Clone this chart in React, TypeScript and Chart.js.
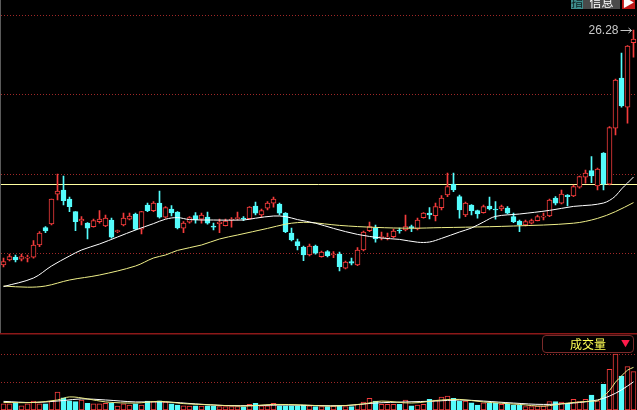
import React, { useEffect, useRef } from "react";
import { Chart, registerables } from "chart.js";

Chart.register(...registerables);

// ---- data ----
const opens = [
  14.53, 14.78, 14.92, 14.82, 14.87, 14.92, 15.53, 16.4, 16.58, 18.07,
  18.28, 17.82, 17.2, 16.73, 16.62, 16.45, 16.7, 16.48, 16.78, 16.2,
  16.53, 16.82, 17.08, 16.32, 17.53, 17.25, 17.62, 16.92, 17.33, 17.18,
  16.37, 16.67, 17.0, 16.82, 16.92, 16.45, 16.6, 16.5, 16.78, 16.85,
  16.87, 16.85, 17.48, 17.03, 17.37, 17.62, 17.58, 17.12, 16.12, 15.7,
  15.42, 15.03, 15.48, 14.95, 15.2, 15.03, 15.07, 14.37, 14.7, 14.53,
  15.28, 16.25, 16.37, 15.9, 15.87, 15.95, 16.28, 16.28, 16.45, 16.33,
  16.9, 17.12, 17.0, 17.4, 18.03, 18.57, 17.95, 17.03, 17.53, 17.25,
  17.15, 17.48, 17.33, 17.33, 17.37, 16.95, 16.73, 16.53, 16.62, 16.75,
  16.92, 16.98, 17.87, 17.62, 18.03, 17.98, 18.42, 18.92, 19.25, 18.48,
  20.12, 18.57, 21.37, 23.87, 22.42, 25.65,
];
const closes = [
  14.7, 14.95, 14.78, 14.95, 14.92, 15.53, 16.12, 16.23, 17.82, 18.23,
  17.75, 17.45, 16.7, 16.82, 16.37, 16.75, 16.82, 16.87, 15.92, 16.25,
  16.87, 16.98, 16.32, 17.2, 17.25, 17.63, 16.92, 17.4, 17.13, 16.38,
  16.62, 16.9, 16.78, 17.03, 16.62, 16.42, 16.67, 16.73, 16.82, 16.9,
  16.82, 17.42, 17.12, 17.25, 17.62, 17.82, 17.12, 16.2, 15.78, 15.5,
  15.03, 15.48, 15.12, 15.17, 15.0, 15.08, 14.45, 14.67, 14.62, 15.28,
  16.17, 16.45, 15.83, 15.95, 15.92, 16.23, 16.23, 16.45, 16.37, 16.78,
  17.12, 17.03, 17.45, 17.87, 18.45, 18.28, 17.28, 17.62, 17.25, 17.08,
  17.45, 17.33, 17.28, 17.45, 17.12, 16.7, 16.53, 16.7, 16.75, 16.95,
  16.98, 17.78, 17.62, 18.08, 17.95, 18.45, 18.95, 19.12, 18.98, 19.32,
  18.57, 21.4, 23.78, 22.48, 25.48, 25.82,
];
const highs = [
  14.88, 15.08, 15.03, 15.08, 15.03, 15.75, 16.2, 16.45, 17.82, 19.08,
  18.98, 17.92, 17.2, 16.95, 16.65, 16.82, 17.25, 17.03, 16.87, 16.28,
  17.12, 17.12, 17.12, 17.21, 17.62, 17.7, 18.23, 17.45, 17.5, 17.2,
  16.7, 16.95, 17.15, 17.12, 17.17, 16.62, 16.82, 16.82, 16.9, 17.17,
  16.95, 17.45, 17.67, 17.32, 17.7, 17.92, 17.62, 17.15, 16.37, 15.82,
  15.48, 15.58, 15.53, 15.23, 15.25, 15.2, 15.17, 14.73, 14.87, 15.4,
  16.23, 16.67, 16.53, 16.17, 16.12, 16.33, 16.37, 17.03, 16.53, 16.87,
  17.15, 17.4, 17.62, 18.0, 19.12, 19.12, 18.03, 17.67, 17.55, 17.28,
  17.53, 17.92, 17.7, 17.53, 17.45, 17.12, 16.78, 16.78, 16.83, 17.03,
  17.12, 17.82, 17.95, 18.28, 18.05, 18.53, 18.98, 19.28, 19.95, 19.37,
  20.15, 21.45, 23.82, 25.12, 25.5, 26.28,
];
const lows = [
  14.43, 14.73, 14.68, 14.73, 14.68, 14.87, 15.45, 16.15, 16.53, 17.78,
  17.53, 17.2, 16.25, 16.53, 15.83, 16.42, 16.62, 16.45, 15.87, 16.15,
  16.48, 16.78, 16.28, 16.08, 17.2, 17.2, 16.87, 16.87, 16.98, 16.33,
  16.15, 16.62, 16.62, 16.62, 16.57, 16.28, 16.15, 16.48, 16.42, 16.78,
  16.75, 16.82, 17.03, 16.95, 17.28, 17.42, 17.03, 16.15, 15.73, 15.28,
  14.75, 14.98, 15.07, 14.92, 14.93, 14.9, 14.23, 14.33, 14.53, 14.5,
  15.23, 16.2, 15.67, 15.78, 15.78, 15.9, 16.12, 16.23, 16.2, 16.28,
  16.87, 16.83, 16.73, 17.28, 17.95, 18.2, 16.87, 16.95, 17.03, 16.87,
  17.12, 17.28, 16.82, 17.25, 17.08, 16.65, 16.2, 16.48, 16.58, 16.73,
  16.78, 16.95, 17.53, 17.58, 17.48, 17.95, 18.37, 18.62, 18.65, 18.28,
  18.28, 18.53, 21.03, 22.42, 21.62, 24.92,
];
const volumes = [
  22, 22, 24, 15, 22, 32, 22, 22, 32, 64,
  44, 33, 30, 36, 24, 22, 22, 24, 24, 14,
  22, 18, 22, 18, 32, 30, 33, 28, 22, 18,
  15, 14, 15, 14, 15, 13, 12, 12, 12, 12,
  11, 20, 24, 15, 15, 24, 15, 15, 15, 15,
  18, 15, 12, 12, 12, 14, 15, 12, 12, 20,
  28, 42, 32, 20, 20, 20, 20, 36, 15, 18,
  20, 38, 36, 46, 50, 42, 32, 32, 26, 18,
  26, 24, 24, 20, 20, 18, 18, 12, 12, 14,
  14, 30, 30, 28, 24, 38, 30, 38, 54, 33,
  92, 146, 201, 122, 156, 138,
];
// moving-average lines, as [day index, value]
const maFast = [
  [0, 13.45], [5, 13.88], [8, 14.48], [11, 14.98], [13, 15.28], [16, 15.58], [19, 15.93],
  [22, 16.28], [25, 16.6], [27, 16.82], [29, 16.9], [31, 16.8], [35, 16.78], [40, 16.78],
  [42, 16.87], [45, 16.98], [47, 16.95], [49, 16.8], [52, 16.62], [55, 16.36], [59, 16.06],
  [63, 15.88], [66, 15.81], [69, 15.67], [71, 15.68], [73, 15.86], [76, 16.18], [78, 16.38],
  [80, 16.68], [82, 16.96], [86, 17.08], [91, 17.26], [95, 17.46], [98, 17.53], [100, 17.63],
  [101, 17.76], [102, 17.98], [103, 18.33], [104, 18.63], [105, 18.93],
];
const maSlow = [
  [0, 13.48], [4, 13.42], [7, 13.48], [11, 13.78], [16, 14.03], [22, 14.48], [25, 14.88],
  [27, 15.03], [29, 15.26], [33, 15.53], [36, 15.83], [39, 16.03], [44, 16.36], [47, 16.57],
  [49, 16.65], [51, 16.66], [56, 16.51], [62, 16.41], [68, 16.37], [73, 16.4], [77, 16.42],
  [85, 16.48], [95, 16.62], [99, 16.86], [102, 17.2], [105, 17.65],
];
const volMaFast = [
  [0, 27], [5, 27], [9, 36], [11, 47], [14, 40], [17, 29], [22, 25], [26, 31], [30, 23],
  [35, 18], [40, 14], [45, 20], [50, 18], [55, 14], [60, 22], [63, 32], [68, 25], [73, 36],
  [76, 38], [80, 29], [86, 20], [90, 14], [94, 25], [98, 32], [99, 33], [100, 50], [101, 70],
  [102, 100], [103, 122], [104, 143], [105, 153],
];
const volMaSlow = [
  [0, 31], [5, 27], [10, 34], [13, 40], [17, 36], [22, 29], [27, 29], [32, 22], [37, 16],
  [42, 16], [47, 18], [52, 16], [57, 16], [62, 25], [67, 29], [72, 32], [76, 36], [80, 32],
  [85, 25], [90, 20], [95, 25], [99, 36], [101, 50], [103, 72], [105, 101],
];
const days = opens.map((_, i) => String(i + 1));
const priceGrid = [15.115, 19.08, 23.065, 26.995];
const volumeGrid = [100, 200];
const levelLine = 18.58;
const priceMin = 11.13;
const priceMax = 27.78;
const volumeMax = 276.5;

// ---- styles ----
const UP = "#f53c3c";
const DOWN = "#54fcfc";
const GRID = "#a02828";
const isUp = (i: number) => closes[i] >= opens[i];

const pts = (arr: number[][]) => arr.map(([i, v]) => ({ x: days[i], y: v }));

function baseOptions(yMin: number, yMax: number, grid: number[]) {
  return {
    animation: false as const,
    responsive: false,
    maintainAspectRatio: false,
    events: [] as any[],
    layout: { padding: { left: 0.5, right: 0.5, top: 0, bottom: 0 } },
    plugins: { legend: { display: false }, tooltip: { enabled: false } },
    scales: {
      x: { type: "category" as const, display: false, offset: true, grid: { display: false } },
      y: {
        min: yMin,
        max: yMax,
        display: true,
        ticks: { display: false },
        border: { display: false, dash: [1, 2] },
        grid: { color: GRID, lineWidth: 1, drawTicks: false, tickLength: 0 },
        afterBuildTicks: (s: any) => {
          s.ticks = grid.map((v) => ({ value: v }));
        },
      },
    },
  };
}

export default function App() {
  const mainRef = useRef<HTMLCanvasElement>(null);
  const volRef = useRef<HTMLCanvasElement>(null);

  useEffect(() => {
    document.body.style.margin = "0";
    document.body.style.background = "#000";

    const mainDecor = {
      id: "mainDecor",
      beforeDatasetsDraw(chart: any) {
        const { ctx, scales } = chart;
        const py = Math.round(scales.y.getPixelForValue(levelLine)) + 0.5;
        ctx.save();
        ctx.strokeStyle = "#ffffa0";
        ctx.lineWidth = 1;
        ctx.beginPath();
        ctx.moveTo(0, py);
        ctx.lineTo(chart.width, py);
        ctx.stroke();
        ctx.restore();
      },
      afterDatasetsDraw(chart: any) {
        const { ctx, scales } = chart;
        const last = days.length - 1;
        const px = scales.x.getPixelForValue(last);
        const py = Math.round(scales.y.getPixelForValue(highs[last])) + 0.5;
        ctx.save();
        ctx.font = '12px "Liberation Sans", Arial, sans-serif';
        ctx.fillStyle = "#c8c8c8";
        ctx.textAlign = "right";
        ctx.textBaseline = "middle";
        ctx.fillText(highs[last].toFixed(2), px - 15, py);
        ctx.strokeStyle = "#c8c8c8";
        ctx.lineWidth = 1;
        ctx.beginPath();
        ctx.moveTo(px - 13, py);
        ctx.lineTo(px - 2, py);
        ctx.moveTo(px - 5, py - 2.5);
        ctx.lineTo(px - 2, py);
        ctx.lineTo(px - 5, py + 2.5);
        ctx.stroke();
        ctx.restore();
      },
    };

    const volDecor = {
      id: "volDecor",
      afterDraw(chart: any) {
        const { ctx } = chart;
        ctx.save();
        ctx.strokeStyle = "#8c1818";
        ctx.lineWidth = 1.5;
        ctx.beginPath();
        ctx.moveTo(0, 0.75);
        ctx.lineTo(chart.width, 0.75);
        ctx.stroke();
        ctx.restore();
      },
    };

    const main = new Chart(mainRef.current as HTMLCanvasElement, {
      type: "bar",
      data: {
        labels: days,
        datasets: [
          {
            type: "bar",
            label: "wick",
            data: days.map((_, i) => [lows[i], highs[i]]),
            backgroundColor: days.map((_, i) => (isUp(i) ? UP : DOWN)),
            borderWidth: 0,
            barThickness: 1,
            grouped: false,
            order: 3,
          } as any,
          {
            type: "bar",
            label: "body",
            data: days.map((_, i) => [Math.min(opens[i], closes[i]), Math.max(opens[i], closes[i])]),
            backgroundColor: days.map((_, i) => (isUp(i) ? "#000000" : DOWN)),
            borderColor: days.map((_, i) => (isUp(i) ? UP : DOWN)),
            borderWidth: 1,
            borderSkipped: false,
            barThickness: 5,
            minBarLength: 1,
            grouped: false,
            order: 2,
          } as any,
          {
            type: "line",
            label: "MA fast",
            data: pts(maFast),
            borderColor: "#ffffff",
            borderWidth: 1,
            pointRadius: 0,
            tension: 0.35,
            order: 1,
          } as any,
          {
            type: "line",
            label: "MA slow",
            data: pts(maSlow),
            borderColor: "#eeee88",
            borderWidth: 1,
            pointRadius: 0,
            tension: 0.35,
            order: 1,
          } as any,
        ],
      },
      options: baseOptions(priceMin, priceMax, priceGrid) as any,
      plugins: [mainDecor],
    });

    const vol = new Chart(volRef.current as HTMLCanvasElement, {
      type: "bar",
      data: {
        labels: days,
        datasets: [
          {
            type: "bar",
            label: "成交量",
            data: volumes,
            backgroundColor: days.map((_, i) => (isUp(i) ? "#000000" : DOWN)),
            borderColor: days.map((_, i) => (isUp(i) ? UP : DOWN)),
            borderWidth: 1,
            borderSkipped: false,
            barThickness: 5,
            grouped: false,
            order: 2,
          } as any,
          {
            type: "line",
            label: "VOL fast",
            data: pts(volMaFast),
            borderColor: "#eeee88",
            borderWidth: 1,
            pointRadius: 0,
            tension: 0.35,
            order: 1,
          } as any,
          {
            type: "line",
            label: "VOL slow",
            data: pts(volMaSlow),
            borderColor: "#ffffff",
            borderWidth: 1,
            pointRadius: 0,
            tension: 0.35,
            order: 1,
          } as any,
        ],
      },
      options: baseOptions(0, volumeMax, volumeGrid) as any,
      plugins: [volDecor],
    });

    return () => {
      main.destroy();
      vol.destroy();
    };
  }, []);

  return (
    <div
      style={{
        position: "fixed",
        left: 0,
        top: 0,
        width: 637,
        height: 410,
        background: "#000",
        overflow: "hidden",
      }}
    >
      <canvas
        ref={mainRef}
        width={637}
        height={333}
        style={{ position: "absolute", left: 0, top: 0, width: 637, height: 333 }}
      />
      <canvas
        ref={volRef}
        width={637}
        height={77}
        style={{ position: "absolute", left: 0, top: 333, width: 637, height: 77 }}
      />
      <div style={{ position: "absolute", left: 0, top: 0, width: 1, height: 333, background: "#5a5a5a" }} />
      {/* top-right buttons, cut by the window edge */}
      <div
        style={{
          position: "absolute",
          top: -5,
          left: 571,
          height: 14,
          display: "flex",
          fontFamily: '"Noto Sans CJK SC", sans-serif',
          fontSize: 12,
          lineHeight: "14px",
        }}
      >
        <div style={{ width: 12, background: "#3e8e8e", color: "#102020", textAlign: "center" }}>指</div>
        <div style={{ width: 37, background: "#4a4a4a", color: "#ffffff", textAlign: "center" }}>信息</div>
        <div style={{ width: 2 }} />
        <div style={{ width: 13, background: "#c01818", color: "#ffffff", textAlign: "center" }}>▶</div>
      </div>
      {/* volume indicator box */}
      <div
        style={{
          position: "absolute",
          left: 542,
          top: 335,
          width: 90,
          height: 16,
          border: "1px solid #7a2a2a",
          borderRadius: 4,
          background: "#000",
          fontFamily: '"Noto Sans CJK SC", sans-serif',
          fontSize: 12,
          lineHeight: "16px",
          color: "#ffff55",
        }}
      >
        <span style={{ position: "absolute", left: 27 }}>成交量</span>
        <span style={{ position: "absolute", left: 78, color: "#ff1a4a", fontSize: 9 }}>▼</span>
      </div>
    </div>
  );
}
